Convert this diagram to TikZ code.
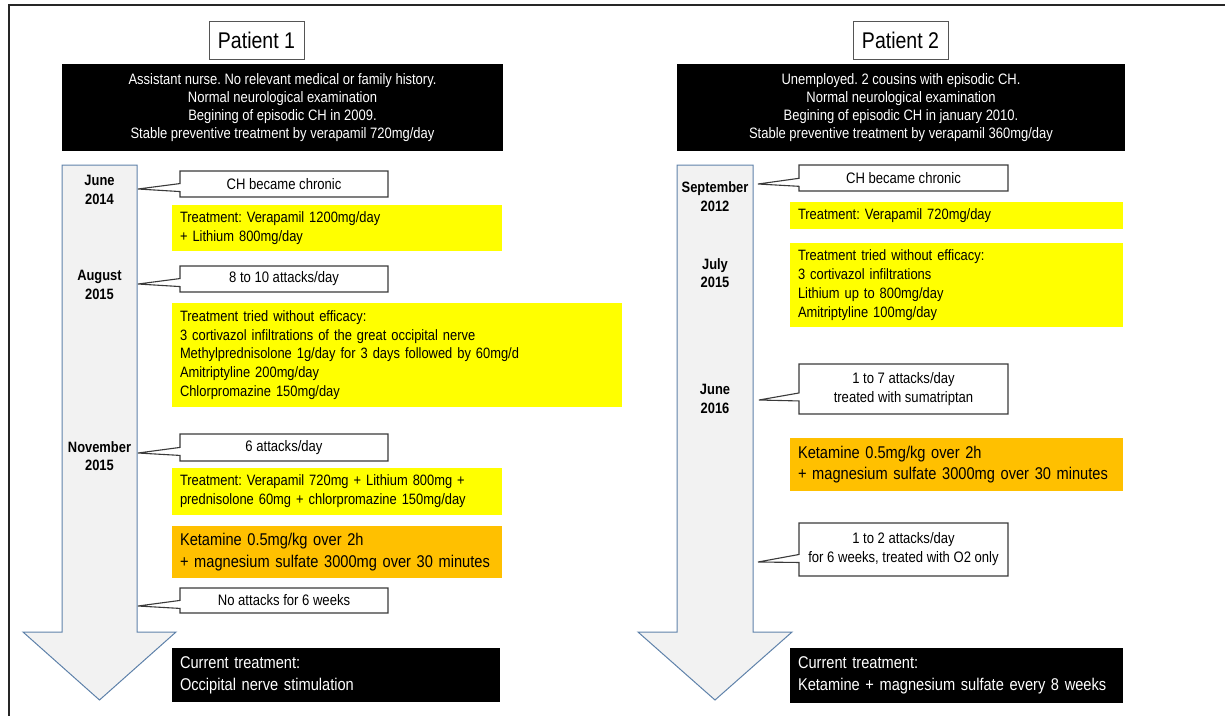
\documentclass[tikz,border=0pt]{standalone}
\usepackage{fontspec}
\setmainfont[FakeStretch=0.86]{Liberation Sans}
\usetikzlibrary{shapes.callouts}
\definecolor{arrowfill}{HTML}{F2F2F2}
\definecolor{arrowline}{RGB}{95,130,170}
\definecolor{hiyellow}{HTML}{FFFF00}
\definecolor{hiorange}{HTML}{FFC000}
\definecolor{calloutline}{HTML}{3A3A3A}
\definecolor{titleline}{HTML}{555555}
\tikzset{
 titlebox/.style={draw=titleline, line width=0.8pt, fill=white, inner sep=0pt, minimum width=95pt, minimum height=38pt, font=\fontsize{22.7}{26}\selectfont},
 headbox/.style={fill=black, text=white, align=center, inner sep=0pt, minimum height=87pt, font=\fontsize{15.1}{17.8}\selectfont},
 datelabel/.style={align=center, inner sep=0pt, font=\bfseries\fontsize{15}{18.3}\selectfont},
 callbox/.style={rectangle callout, draw=calloutline, line width=1.1pt, fill=white, align=center, inner sep=0pt, callout pointer width=8pt, font=\fontsize{15.2}{19}\selectfont},
 yellowbox/.style={fill=hiyellow, align=left, inner xsep=8pt, inner ysep=0pt, font=\fontsize{15}{18.8}\selectfont},
 orangebox/.style={fill=hiorange, align=left, inner xsep=8pt, inner ysep=0pt, font=\fontsize{17}{21.7}\selectfont},
 currentbox/.style={fill=black, text=white, align=left, inner xsep=8pt, inner ysep=0pt, font=\fontsize{17}{21.7}\selectfont},
 timeline/.style={fill=arrowfill, draw=arrowline, line width=1pt, line join=miter},
 framerule/.style={line width=2pt, draw=black!85},
}
\begin{document}
\frenchspacing\hyphenpenalty=10000\exhyphenpenalty=10000
\begin{tikzpicture}[x=1pt,y=-1pt]
\useasboundingbox (0,0) rectangle (1225,716);
% frame
\coordinate (frTL) at (9,5);
\coordinate (frTR) at (1225,5);
\coordinate (frBL) at (9,716);
\draw[framerule] (frTR) -- (frTL) -- (frBL);

% ================= Patient 1 =================
\node[titlebox] (title1) at (256.5,40) {Patient 1};
\node[headbox, minimum width=441pt] (hdr1) at (282.5,107.5) {Assistant nurse. No relevant medical or family history.\\Normal neurological examination\\Begining of episodic CH in 2009.\\Stable preventive treatment by verapamil 720mg/day};
\draw[timeline] (62,165) -- (137,165) -- (137,632) -- (176,632) -- (99.5,700) -- (23,632) -- (62,632) -- cycle;
\node[datelabel] (d11) at (99.5,190) {June\\2014};
\node[datelabel] (d12) at (99.5,285) {August\\2015};
\node[datelabel] (d13) at (99.5,456) {November\\2015};

\coordinate (t11) at (138,189);
\coordinate (t12) at (138,284);
\coordinate (t13) at (138,453);
\coordinate (t14) at (138,606);
\node[callbox, minimum width=208pt, minimum height=26pt, callout absolute pointer={(t11)}] (c11) at (284,184) {CH became chronic};
\node[yellowbox, text width=314pt, minimum height=46pt] (y11) at (337,228) {Treatment: Verapamil 1200mg/day\\+ Lithium 800mg/day};
\node[callbox, minimum width=208pt, minimum height=26pt, callout absolute pointer={(t12)}] (c12) at (284,279) {8 to 10 attacks/day};
\node[yellowbox, text width=434pt, minimum height=104pt] (y12) at (397,355) {Treatment tried without efficacy:\\3 cortivazol infiltrations of the great occipital nerve\\Methylprednisolone 1g/day for 3 days followed by 60mg/d\\Amitriptyline 200mg/day\\Chlorpromazine 150mg/day};
\node[callbox, minimum width=208pt, minimum height=27pt, callout absolute pointer={(t13)}] (c13) at (284,447.5) {6 attacks/day};
\node[yellowbox, text width=314pt, minimum height=47pt] (y13) at (337,491.5) {Treatment: Verapamil 720mg + Lithium 800mg +\\prednisolone 60mg + chlorpromazine 150mg/day};
\node[orangebox, text width=314pt, minimum height=52pt] (o1) at (337,552) {Ketamine 0.5mg/kg over 2h\\+ magnesium sulfate 3000mg over 30 minutes};
\node[callbox, minimum width=208pt, minimum height=25pt, callout absolute pointer={(t14)}] (c14) at (284,600.5) {No attacks for 6 weeks};
\node[currentbox, text width=312pt, minimum height=54pt] (cur1) at (336,675) {Current treatment:\\Occipital nerve stimulation};

% ================= Patient 2 =================
\node[titlebox] (title2) at (900.5,40) {Patient 2};
\node[headbox, minimum width=448pt] (hdr2) at (901,107.5) {Unemployed. 2 cousins with episodic CH.\\Normal neurological examination\\Begining of episodic CH in january 2010.\\Stable preventive treatment by verapamil 360mg/day};
\draw[timeline] (677,165) -- (753,165) -- (753,632) -- (792,632) -- (715,700) -- (638,632) -- (677,632) -- cycle;
\node[datelabel] (d21) at (715,196.5) {September\\2012};
\node[datelabel] (d22) at (715,273) {July\\2015};
\node[datelabel] (d23) at (715,399) {June\\2016};

\coordinate (t21) at (758,184);
\coordinate (t22) at (759,400);
\coordinate (t23) at (758,562);
\node[callbox, minimum width=209pt, minimum height=26pt, callout absolute pointer={(t21)}] (c21) at (903.5,178) {CH became chronic};
\node[yellowbox, text width=317pt, minimum height=27pt] (y21) at (956.5,215.5) {Treatment: Verapamil 720mg/day};
\node[yellowbox, text width=317pt, minimum height=84pt] (y22) at (956.5,285) {Treatment tried without efficacy:\\3 cortivazol infiltrations\\Lithium up to 800mg/day\\Amitriptyline 100mg/day};
\node[callbox, minimum width=209pt, minimum height=50pt, callout absolute pointer={(t22)}] (c22) at (903.5,389) {1 to 7 attacks/day\\treated with sumatriptan};
\node[orangebox, text width=317pt, minimum height=53pt] (o2) at (956.5,464.5) {Ketamine 0.5mg/kg over 2h\\+ magnesium sulfate 3000mg over 30 minutes};
\node[callbox, minimum width=209pt, minimum height=53pt, callout absolute pointer={(t23)}] (c23) at (903.5,549.5) {1 to 2 attacks/day\\for 6 weeks, treated with O2 only};
\node[currentbox, text width=317pt, minimum height=55pt] (cur2) at (956.5,675.5) {Current treatment:\\Ketamine + magnesium sulfate every 8 weeks};
\end{tikzpicture}
\end{document}
